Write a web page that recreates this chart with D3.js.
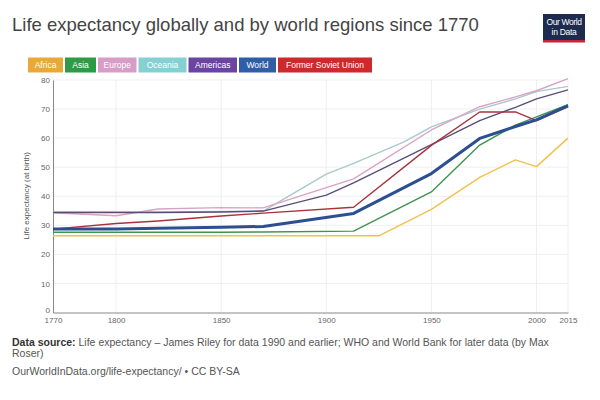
<!DOCTYPE html>
<html><head><meta charset="utf-8">
<script src="https://cdn.jsdelivr.net/npm/d3@7"></script>
<style>
body{margin:0;background:#fff;}
svg{display:block;font-family:"Liberation Sans",Arial,sans-serif;}
</style></head>
<body><svg id="c" width="600" height="400"></svg>
<script>
const seriesNames = ["Africa","Asia","Europe","Oceania","Americas","World","Former Soviet Union"];
const legendColors = ["#e8a93a","#2f9a45","#d79cc7","#86cfd2","#6a44a0","#2f5ea7","#cc2a2d"];
const lineColors   = ["#f0c24a","#3d9450","#d9a3c4","#a9c9cb","#5b4d78","#2b4f90","#a8323e"];
const lineWidths   = [1.4,1.4,1.4,1.4,1.4,3,1.4];

const africa   = [[1770,26.4],[1800,26.4],[1820,26.4],[1850,26.4],[1870,26.4],[1913,26.4],[1925,26.4],[1950,35.5],[1973,46.5],[1990,52.5],[2000,50.2],[2015,60.0]];
const asia     = [[1770,27.6],[1800,27.6],[1820,27.6],[1850,27.6],[1870,27.7],[1913,28.0],[1950,41.5],[1973,57.6],[1990,64.5],[2000,67.3],[2015,71.5]];
const europe   = [[1770,34.3],[1800,33.3],[1820,35.6],[1850,36.1],[1870,36.0],[1913,46.0],[1950,62.8],[1973,70.8],[1990,74.2],[2000,76.3],[2015,80.5]];
const oceania  = [[1770,34.6],[1800,34.6],[1820,34.6],[1850,34.8],[1870,34.9],[1900,47.6],[1913,51.3],[1937,58.7],[1950,63.9],[1973,70.0],[1990,73.5],[2000,76.0],[2015,77.8]];
const americas = [[1770,34.4],[1800,34.4],[1820,34.4],[1850,34.6],[1870,34.9],[1900,40.4],[1913,44.6],[1950,57.8],[1973,66.0],[1990,70.6],[2000,73.5],[2015,76.6]];
const world    = [[1770,28.7],[1800,28.7],[1820,29.0],[1850,29.3],[1870,29.6],[1913,34.1],[1950,47.8],[1973,59.9],[1990,64.0],[2000,66.3],[2015,71.2]];
const fsu      = [[1770,28.7],[1800,30.6],[1820,31.5],[1850,33.2],[1870,34.2],[1913,36.2],[1950,57.5],[1973,69.0],[1990,69.0],[2000,66.0],[2015,70.8]];
const seriesData = [africa, asia, europe, oceania, americas, world, fsu];

const xTicks = [1770,1800,1850,1900,1950,2000,2015];
const yTicks = [0,10,20,30,40,50,60,70,80];

const titleText = "Life expectancy globally and by world regions since 1770";
const yLabel = "Life expectancy (at birth)";
const sourceLine1 = "Life expectancy – James Riley for data 1990 and earlier; WHO and World Bank for later data (by Max";
const sourceLine2 = "Roser)";
const urlLine = "OurWorldInData.org/life-expectancy/ • CC BY-SA";

const svg = d3.select("#c");
const x = d3.scaleLinear().domain([1770,2015]).range([53,568]);
const y = d3.scaleLinear().domain([0,80]).range([312.5,80]);

// title
svg.append("text").attr("x",12).attr("y",31).attr("font-size",18.5).attr("fill","#444").text(titleText);

// logo
const logo = svg.append("g");
logo.append("rect").attr("x",543).attr("y",14).attr("width",42).attr("height",28).attr("fill","#1d2b4f");
logo.append("rect").attr("x",543).attr("y",40).attr("width",42).attr("height",2.5).attr("fill","#c4273d");
logo.append("text").attr("x",564).attr("y",25).attr("text-anchor","middle").attr("font-size",8.5).attr("fill","#fff").attr("letter-spacing",-0.4).text("Our World");
logo.append("text").attr("x",564).attr("y",35).attr("text-anchor","middle").attr("font-size",8.5).attr("fill","#fff").attr("letter-spacing",-0.3).text("in Data");

// legend
const legPos = [[28,35],[65,31],[98,38.5],[138.5,48],[188.5,48.5],[239,37],[278,94]];
const leg = svg.append("g");
seriesNames.forEach((n,i)=>{
  const [lx,lw] = legPos[i];
  leg.append("rect").attr("x",lx).attr("y",57.5).attr("width",lw).attr("height",15).attr("fill",legendColors[i]);
  leg.append("text").attr("x",lx+lw/2).attr("y",68).attr("text-anchor","middle").attr("font-size",8.5).attr("fill","#fff").text(n);
});

// grid
const grid = svg.append("g");
grid.selectAll("line.h").data(yTicks.filter(d=>d>0)).enter().append("line")
  .attr("x1",53).attr("x2",568).attr("y1",d=>y(d)).attr("y2",d=>y(d)).attr("stroke","#efefef").attr("stroke-width",1);
grid.selectAll("line.v").data(xTicks.filter(d=>d>1770)).enter().append("line")
  .attr("x1",d=>x(d)).attr("x2",d=>x(d)).attr("y1",y(80)).attr("y2",y(0)).attr("stroke","#efefef").attr("stroke-width",1);

// axes
const yAxis = d3.axisLeft(y).tickValues(yTicks).tickSize(0).tickPadding(3);
const gy = svg.append("g").attr("transform","translate(53,0)").call(yAxis);
gy.select(".domain").attr("stroke","#888");
gy.selectAll("text").attr("font-size",8).attr("fill","#666").attr("font-family","Liberation Sans, Arial, sans-serif")
  .attr("dy", d => d === 0 ? "0.05em" : "0.32em");

const xAxis = d3.axisBottom(x).tickValues(xTicks).tickFormat(d3.format("d")).tickSize(0).tickPadding(5);
const gx = svg.append("g").attr("transform","translate(0,312.5)").call(xAxis);
gx.select(".domain").attr("stroke","#888");
gx.selectAll("text").attr("font-size",8).attr("fill","#666").attr("font-family","Liberation Sans, Arial, sans-serif");

svg.append("text").attr("transform","translate(29,196) rotate(-90)").attr("text-anchor","middle")
  .attr("font-size",8).attr("fill","#555").text(yLabel);

// lines
const line = d3.line().x(d=>x(d[0])).y(d=>y(d[1]));
const drawOrder = [0,1,3,2,4,6,5];
drawOrder.forEach(i=>{
  svg.append("path").datum(seriesData[i]).attr("d",line).attr("fill","none")
    .attr("stroke",lineColors[i]).attr("stroke-width",lineWidths[i]).attr("stroke-linejoin","round");
});

// footer
const f1 = svg.append("text").attr("x",12).attr("y",346).attr("font-size",10.5).attr("fill","#555");
f1.append("tspan").attr("font-weight","bold").attr("fill","#333").text("Data source: ");
f1.append("tspan").text(sourceLine1);
svg.append("text").attr("x",12).attr("y",357).attr("font-size",10.5).attr("fill","#555").text(sourceLine2);
svg.append("text").attr("x",12).attr("y",375).attr("font-size",10.5).attr("fill","#555").text(urlLine);
</script></body></html>
